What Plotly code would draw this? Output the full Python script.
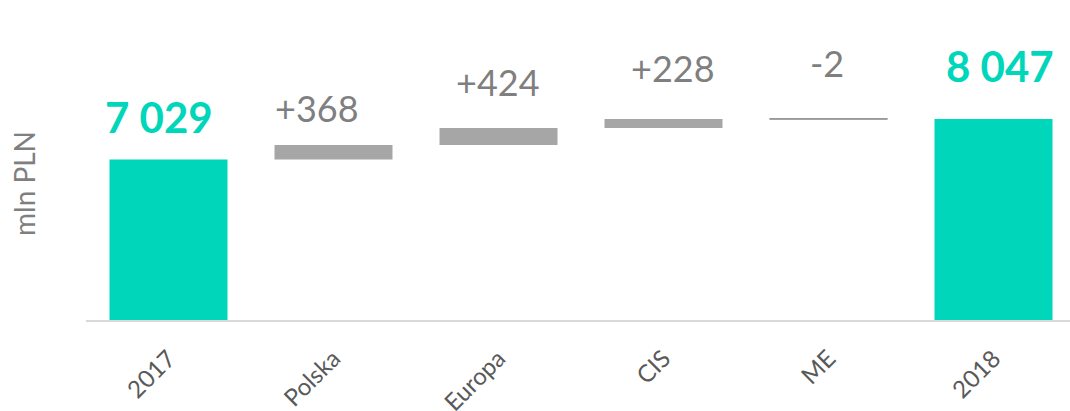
import plotly.graph_objects as go

# ---- data ----
categories = ["2017", "Polska", "Europa", "CIS", "ME", "2018"]
kinds = ["total", "delta", "delta", "delta", "delta", "total"]
values = [7029, 368, 424, 228, -2, 8047]
label_texts = ["7 029", "+368", "+424", "+228", "-2", "8 047"]
y_axis_title = "mln PLN"

# ---- style ----
TEAL = "#00D6BA"
GREY_BAR = "#A6A6A6"
GREY_TEXT = "#7F7F7F"
TICK_TEXT = "#595959"
AXIS_LINE = "#D9D9D9"
label_dx = [-10, -17, -1, 9, -2, 6]          # px offsets of labels (hand-placed in the original)
label_dy = [40, 34, 43, 48, 53, 50]           # px above bar top (digit centre)

# build bar geometry from data
bases, heights, colors, line_w, line_c = [], [], [], [], []
running = 0
for k, v in zip(kinds, values):
    if k == "total":
        bases.append(0)
        heights.append(v)
        colors.append(TEAL)
        line_w.append(0)
        line_c.append(TEAL)
        running = v
    else:
        bases.append(running)
        heights.append(v)
        colors.append(GREY_BAR)
        if abs(v) < 10:
            line_w.append(1)
            line_c.append("#7F7F7F")
        else:
            line_w.append(0)
            line_c.append(GREY_BAR)
        running += v
tops = [max(b, b + h) for b, h in zip(bases, heights)]

Y_MIN, Y_MAX = 3000, 11035

fig = go.Figure()
fig.add_trace(go.Bar(
    x=categories, y=heights, base=bases,
    marker=dict(color=colors, line=dict(width=line_w, color=line_c)),
    width=0.715, hoverinfo="skip", showlegend=False,
))

for i, (t, txt, k) in enumerate(zip(tops, label_texts, kinds)):
    is_total = k == "total"
    fig.add_annotation(
        x=i, y=t, xref="x", yref="y", text=txt, showarrow=False,
        xanchor="center", yanchor="middle",
        xshift=label_dx[i], yshift=label_dy[i] + 3,
        font=dict(family="Lato", size=42 if is_total else 36,
                  color=TEAL if is_total else GREY_TEXT,
                  weight=700 if is_total else 400),
    )

fig.add_annotation(
    x=(24 - 86) / 984, y=(320 - 184) / 320, xref="paper", yref="paper",
    text=y_axis_title, textangle=-90, showarrow=False,
    xanchor="center", yanchor="middle",
    font=dict(family="Lato", size=28, color=GREY_TEXT),
)

fig.update_layout(
    width=1070, height=411,
    margin=dict(l=86, r=0, t=0, b=91),
    paper_bgcolor="white", plot_bgcolor="white",
    bargap=0.285,
    xaxis=dict(
        type="category", automargin=False,
        range=[-0.5, -0.5 + 984 / 165],
        showline=True, linecolor=AXIS_LINE, linewidth=2,
        ticks="", tickangle=-45, ticklabelstandoff=13,
        tickfont=dict(family="Lato", size=24, color=TICK_TEXT),
        showgrid=False, zeroline=False, fixedrange=True,
    ),
    yaxis=dict(
        range=[Y_MIN, Y_MAX], visible=False, showgrid=False, zeroline=False,
        automargin=False,
    ),
)

fig.write_html("out.html")
